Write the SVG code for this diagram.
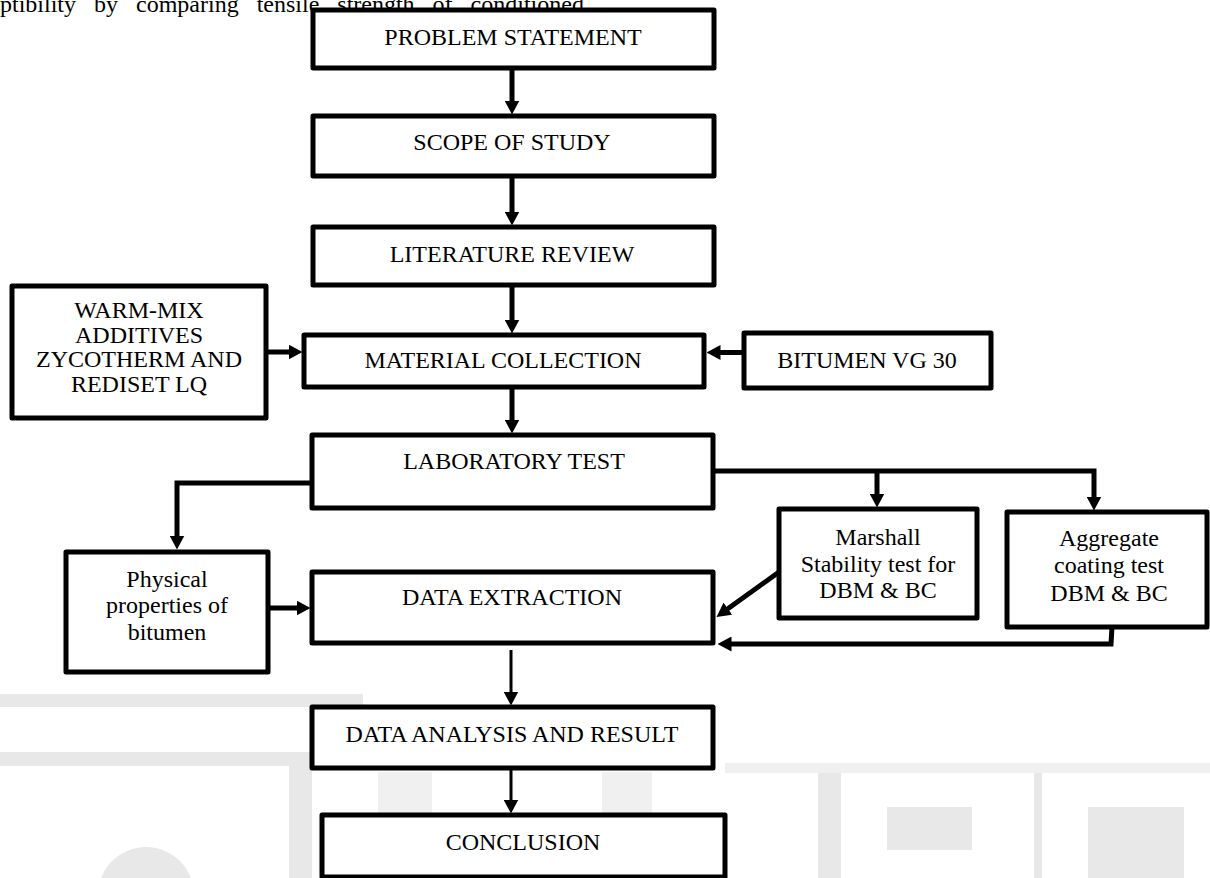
<svg xmlns="http://www.w3.org/2000/svg" width="1210" height="878" viewBox="0 0 1210 878">
<style>
.box{fill:#fff;stroke:#000;stroke-width:5;stroke-linejoin:round}
.t{font-family:"Liberation Serif","Times New Roman",serif;font-size:24px;fill:#000;text-anchor:middle}
.c{fill:none;stroke:#000;stroke-width:5;stroke-linejoin:miter}
.thin{stroke-width:3}
.wm{fill:#e8e8e8}
.wm2{fill:#f0f0f0}
</style>
<defs>
<marker id="ah" markerUnits="userSpaceOnUse" markerWidth="14" markerHeight="15" viewBox="0 0 14 15" refX="0.5" refY="7.5" orient="auto">
<path d="M0,0 L14,7.5 L0,15 Z" fill="#000"/>
</marker>
</defs>
<rect width="1210" height="878" fill="#fff"/>
<g id="watermark">
<rect class="wm" x="0" y="694" width="363" height="13"/>
<rect class="wm" x="0" y="752" width="297" height="14"/>
<rect class="wm" x="289" y="752" width="23" height="126"/>
<rect class="wm2" x="378" y="772" width="54" height="106"/>
<rect class="wm2" x="602" y="772" width="50" height="106"/>
<rect class="wm2" x="725" y="763" width="485" height="10"/>
<rect class="wm" x="818" y="773" width="23" height="105"/>
<rect class="wm" x="887" y="807" width="85" height="43"/>
<rect class="wm" x="1034" y="773" width="8" height="105"/>
<rect class="wm" x="1088" y="807" width="96" height="71"/>
<circle class="wm" cx="146" cy="895" r="48"/>
</g>
<text x="0" y="12" font-family="Liberation Serif, serif" font-size="24" word-spacing="12">ptibility by comparing tensile strength of conditioned</text>
<g id="connectors">
<line class="c" x1="512" y1="67" x2="512" y2="101" marker-end="url(#ah)"/>
<line class="c" x1="512" y1="176" x2="512" y2="212" marker-end="url(#ah)"/>
<line class="c" x1="512" y1="285" x2="512" y2="320" marker-end="url(#ah)"/>
<line class="c" x1="266" y1="352" x2="289" y2="352" marker-end="url(#ah)"/>
<line class="c" x1="744" y1="352.5" x2="720" y2="352.5" marker-end="url(#ah)"/>
<line class="c" x1="512" y1="387" x2="512" y2="420" marker-end="url(#ah)"/>
<path class="c" d="M312,483 L177,483 L177,536" marker-end="url(#ah)"/>
<path class="c" d="M713,471 L1094,471 L1094,497" marker-end="url(#ah)"/>
<line class="c" x1="877" y1="471" x2="877" y2="494" marker-end="url(#ah)"/>
<line class="c" x1="268" y1="608" x2="297" y2="608" marker-end="url(#ah)"/>
<line class="c" x1="779" y1="572" x2="727.5" y2="609" marker-end="url(#ah)"/>
<path class="c" d="M1112,627 L1111,644 L731,644" marker-end="url(#ah)"/>
<line class="c thin" x1="511" y1="650" x2="511" y2="692" marker-end="url(#ah)"/>
<line class="c thin" x1="511" y1="768" x2="511" y2="800" marker-end="url(#ah)"/>
</g>
<g id="problem"><rect class="box" x="313" y="10" width="401" height="58"/><text class="t" x="513" y="45">PROBLEM STATEMENT</text></g>
<g id="scope"><rect class="box" x="313" y="116" width="401" height="60"/><text class="t" x="512" y="150">SCOPE OF STUDY</text></g>
<g id="literature"><rect class="box" x="313" y="227" width="401" height="58"/><text class="t" x="512" y="262">LITERATURE REVIEW</text></g>
<g id="material"><rect class="box" x="304" y="335" width="400" height="52"/><text class="t" x="503" y="368">MATERIAL COLLECTION</text></g>
<g id="warmmix"><rect class="box" x="12" y="286" width="254" height="132"/>
<text class="t" x="139" y="318">WARM-MIX</text><text class="t" x="139" y="342.5">ADDITIVES</text><text class="t" x="139" y="367">ZYCOTHERM AND</text><text class="t" x="139" y="391.5">REDISET LQ</text></g>
<g id="bitumen"><rect class="box" x="744" y="333" width="247" height="55"/><text class="t" x="867" y="368">BITUMEN VG 30</text></g>
<g id="labtest"><rect class="box" x="312" y="435" width="401" height="73"/><text class="t" x="514" y="469">LABORATORY TEST</text></g>
<g id="physical"><rect class="box" x="66" y="552" width="202" height="120"/>
<text class="t" x="167" y="587">Physical</text><text class="t" x="167" y="613">properties of</text><text class="t" x="167" y="640">bitumen</text></g>
<g id="extraction"><rect class="box" x="312" y="572" width="401" height="71"/><text class="t" x="512" y="605">DATA EXTRACTION</text></g>
<g id="marshall"><rect class="box" x="779" y="509" width="198" height="109"/>
<text class="t" x="878" y="545">Marshall</text><text class="t" x="878" y="572">Stability test for</text><text class="t" x="878" y="598">DBM &amp; BC</text></g>
<g id="aggregate"><rect class="box" x="1007" y="512" width="200" height="115"/>
<text class="t" x="1109" y="546">Aggregate</text><text class="t" x="1109" y="573">coating test</text><text class="t" x="1109" y="601">DBM &amp; BC</text></g>
<g id="analysis"><rect class="box" x="312" y="707" width="401" height="61"/><text class="t" x="512" y="742">DATA ANALYSIS AND RESULT</text></g>
<g id="conclusion"><rect class="box" x="322" y="815" width="403" height="62"/><text class="t" x="523" y="850">CONCLUSION</text></g>
</svg>
